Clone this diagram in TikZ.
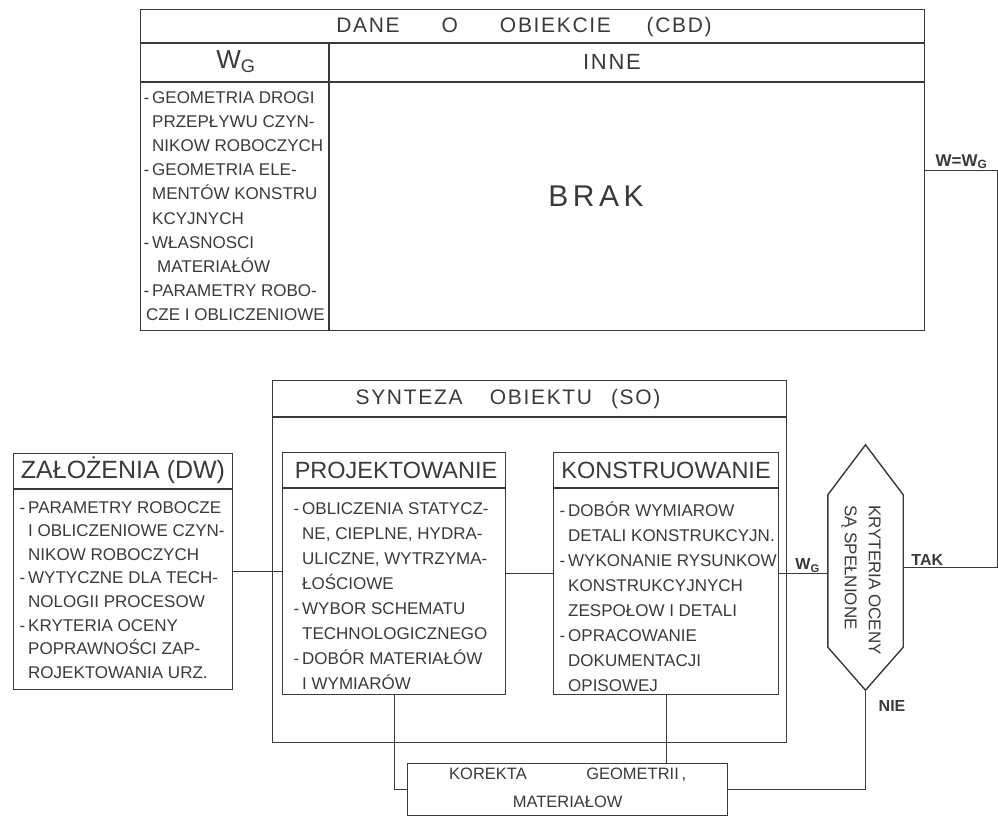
\documentclass[tikz,border=0pt]{standalone}
\usepackage{fontspec}
\setmainfont{Liberation Sans}
\newfontfamily\wide[LetterSpace=8]{Liberation Sans}
\usetikzlibrary{calc}

\definecolor{ink}{HTML}{3A3A3A}
\newcommand{\dsh}{\llap{-\,}}
\newcommand{\fs}[1]{\fontsize{#1}{#1}\selectfont}

\tikzset{
  box/.style={draw=ink, line width=1.4pt, inner sep=0pt, anchor=north west},
  rule/.style={draw=ink, line width=1.4pt},
  link/.style={draw=ink, line width=1.4pt},
  lst/.style={text=ink, font=\fontsize{17}{25}\selectfont, align=left,
    anchor=north west, inner sep=0pt},
  hdr/.style={text=ink, inner sep=0pt},
  lbl/.style={text=ink, inner sep=1pt, font=\fs{16}\bfseries},
}

\begin{document}
\begin{tikzpicture}[x=1pt, y=-1pt]
  \useasboundingbox (0,0) rectangle (998,816);

  % dane o obiekcie
  \node[box, minimum width=784pt, minimum height=321pt] (cbd) at (140,9) {};
  \draw[rule] (cbd.west |- 0,43) -- (cbd.east |- 0,43);
  \draw[rule] (cbd.west |- 0,82) -- (cbd.east |- 0,82);
  \draw[rule] (329,43) -- (cbd.south -| 329,0);
  \node[hdr, font=\fs{21}\wide] (cbdt) at (524,27)
    {DANE\hspace{2em}O\hspace{2em}OBIEKCIE\hspace{1.7em}(CBD)};
  \node[hdr, font=\fs{26}] (wg) at (236,62) {W\textsubscript{G}};
  \node[hdr, font=\fs{22}\wide] (inne) at (612,62) {INNE};
  \node[hdr, font=\fs{30}] (brak) at (596,196) {B\hspace{.15em}R\hspace{.15em}A\hspace{.15em}K};
  \node[lst, font=\fontsize{17}{24.2}\selectfont] (wgl) at (152,91)
    {\dsh GEOMETRIA DROGI\\ PRZEPŁYWU CZYN-\\ NIKOW ROBOCZYCH\\
     \dsh GEOMETRIA ELE-\\ MENTÓW KONSTRU\\ KCYJNYCH\\
     \dsh WŁASNOSCI\\ \hspace*{5pt}MATERIAŁÓW\\
     \dsh PARAMETRY ROBO-\\ \hspace*{-6pt}CZE I OBLICZENIOWE};

  % zalozenia
  \node[box, minimum width=219pt, minimum height=236pt] (dw) at (13,453) {};
  \draw[rule] (dw.west |- 0,489) -- (dw.east |- 0,489);
  \node[hdr, font=\fs{25}] (dwt) at (123,470) {ZAŁOŻENIA (DW)};
  \node[lst, font=\fontsize{17}{23.6}\selectfont] (dwl) at (28,501)
    {\dsh PARAMETRY ROBOCZE\\ I OBLICZENIOWE CZYN-\\ NIKOW ROBOCZYCH\\
     \dsh WYTYCZNE DLA TECH-\\ NOLOGII PROCESOW\\
     \dsh KRYTERIA OCENY\\ POPRAWNOŚCI ZAP-\\ ROJEKTOWANIA URZ.};

  % synteza obiektu
  \node[box, minimum width=514pt, minimum height=362pt] (so) at (272,380) {};
  \draw[rule] (so.west |- 0,417) -- (so.east |- 0,417);
  \node[hdr, font=\fs{21}\wide] (sot) at (508,399)
    {SYNTEZA\hspace{1.3em}OBIEKTU\hspace{0.9em}(SO)};

  \node[box, minimum width=223pt, minimum height=242pt] (proj) at (282,452) {};
  \draw[rule] (proj.west |- 0,488) -- (proj.east |- 0,488);
  \node[hdr, font=\fs{23.5}] (projt) at (396,470) {PROJEKTOWANIE};
  \node[lst] (projl) at (302,502)
    {\dsh OBLICZENIA STATYCZ-\\ NE, CIEPLNE, HYDRA-\\ ULICZNE, WYTRZYMA-\\
     ŁOŚCIOWE\\ \dsh WYBOR SCHEMATU\\ TECHNOLOGICZNEGO\\
     \dsh DOBÓR MATERIAŁÓW\\ I WYMIARÓW};

  \node[box, minimum width=225pt, minimum height=242pt] (kons) at (553,452) {};
  \draw[rule] (kons.west |- 0,488) -- (kons.east |- 0,488);
  \node[hdr, font=\fs{23.5}] (konst) at (666,470) {KONSTRUOWANIE};
  \node[lst] (konsl) at (568,502)
    {\dsh DOBÓR WYMIAROW\\ DETALI KONSTRUKCYJN.\\ \dsh WYKONANIE RYSUNKOW\\
     KONSTRUKCYJNYCH\\ ZESPOŁOW I DETALI\\ \dsh OPRACOWANIE\\
     DOKUMENTACJI\\ OPISOWEJ};

  % kryteria oceny
  \node[minimum width=75pt, minimum height=245pt, inner sep=0pt] (kr) at (865.5,567.5) {};
  \draw[link] (kr.north) -- ($(kr.north west)+(0,50)$) -- ($(kr.south west)+(0,-43)$)
    -- (kr.south) -- ($(kr.south east)+(0,-43)$) -- ($(kr.north east)+(0,50)$) -- cycle;
  \node[lst, font=\fontsize{17}{24}\selectfont, rotate=-90, anchor=center] (krt) at (861,580)
    {KRYTERIA OCENY\\ SĄ SPEŁNIONE};

  % korekta
  \node[box, minimum width=320pt, minimum height=52pt] (kor) at (407,763) {};
  \node[hdr, font=\fontsize{16.5}{28}\selectfont, align=center] (kort) at ($(kor.center)+(0,-2)$)
    {KOREKTA\hspace{3.6em}GEOMETRII\,,\\ MATERIAŁOW};

  % polaczenia
  \coordinate (rt) at ($(cbd.east)+(72,0)$);
  \draw[link] (dw.east) -- (dw.east -| proj.west);
  \draw[link] (proj.east) -- (kons.west);
  \draw[link] (kons.east) -- (kons.east -| kr.west);
  \draw[link] (kr.east) -- (kr.east -| rt) -- (rt) -- (cbd.east);
  \draw[link] (kr.south) |- (kor.east);
  \draw[link] (kons.south) -- (kons.south |- kor.north);
  \draw[link] (proj.south) |- (kor.west);

  \node[lbl, anchor=south, font=\fs{17}\bfseries] (lw) at ($(cbd.east)!0.5!(rt)$) {W=W\textsubscript{G}};
  \node[lbl, anchor=south] (lg) at ($(so.east |- kons.east)!0.5!(kr.west |- kons.east)$) {W\textsubscript{G}};
  \node[lbl, anchor=south west] (ltak) at ($(kr.east)+(7,-1)$) {TAK};
  \node[lbl, anchor=west] (lnie) at ($(kr.south)+(12,16)$) {NIE};
\end{tikzpicture}
\end{document}
